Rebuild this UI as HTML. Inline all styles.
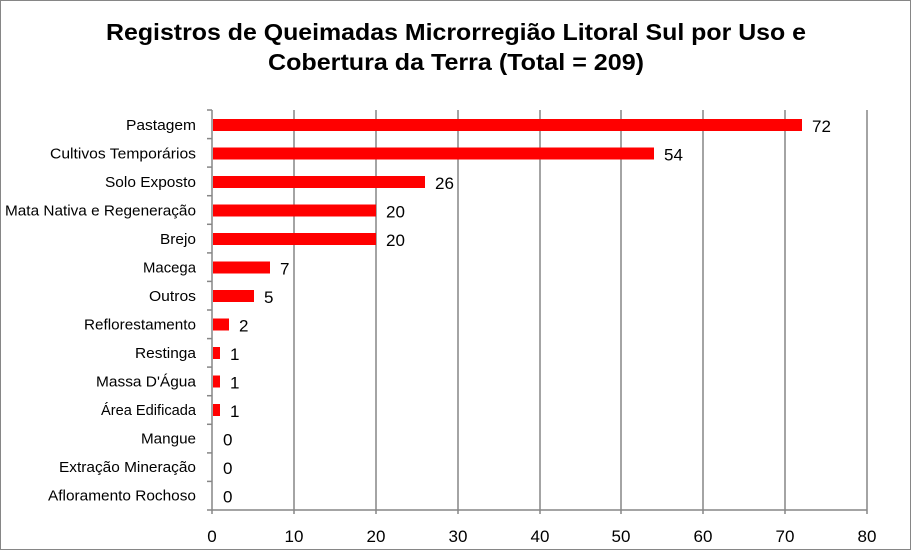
<!DOCTYPE html>
<html><head><meta charset="utf-8"><style>
body{margin:0;background:#fff}
svg{display:block}
text{font-family:"Liberation Sans",Arial,sans-serif}
</style></head><body>
<svg width="911" height="551" viewBox="0 0 911 551" xmlns="http://www.w3.org/2000/svg">
<rect x="0.5" y="0.5" width="910" height="549" fill="#fff" stroke="#868686"/>
<text x="106" y="40" font-size="23" font-weight="bold" textLength="700" lengthAdjust="spacingAndGlyphs">Registros de Queimadas Microrregião Litoral Sul por Uso e</text>
<text x="268" y="70" font-size="23" font-weight="bold" textLength="376" lengthAdjust="spacingAndGlyphs">Cobertura da Terra (Total = 209)</text>
<g stroke="#868686" stroke-width="1.5">
<line x1="294" y1="110" x2="294" y2="510"/><line x1="376" y1="110" x2="376" y2="510"/>
<line x1="458" y1="110" x2="458" y2="510"/><line x1="540" y1="110" x2="540" y2="510"/>
<line x1="621" y1="110" x2="621" y2="510"/><line x1="703" y1="110" x2="703" y2="510"/>
<line x1="785" y1="110" x2="785" y2="510"/><line x1="867" y1="110" x2="867" y2="510"/>
<line x1="212" y1="110" x2="212" y2="514"/><line x1="207" y1="510" x2="867" y2="510"/>
<line x1="207" y1="110" x2="212" y2="110"/><line x1="207" y1="138.6" x2="212" y2="138.6"/><line x1="207" y1="167.1" x2="212" y2="167.1"/><line x1="207" y1="195.7" x2="212" y2="195.7"/><line x1="207" y1="224.3" x2="212" y2="224.3"/><line x1="207" y1="252.9" x2="212" y2="252.9"/><line x1="207" y1="281.4" x2="212" y2="281.4"/><line x1="207" y1="310" x2="212" y2="310"/><line x1="207" y1="338.6" x2="212" y2="338.6"/><line x1="207" y1="367.1" x2="212" y2="367.1"/><line x1="207" y1="395.7" x2="212" y2="395.7"/><line x1="207" y1="424.3" x2="212" y2="424.3"/><line x1="207" y1="452.9" x2="212" y2="452.9"/><line x1="207" y1="481.4" x2="212" y2="481.4"/>
<line x1="294" y1="510" x2="294" y2="514"/><line x1="376" y1="510" x2="376" y2="514"/><line x1="458" y1="510" x2="458" y2="514"/><line x1="540" y1="510" x2="540" y2="514"/><line x1="621" y1="510" x2="621" y2="514"/><line x1="703" y1="510" x2="703" y2="514"/><line x1="785" y1="510" x2="785" y2="514"/><line x1="867" y1="510" x2="867" y2="514"/>
</g>
<g fill="#ff0000">
<rect x="213" y="119" width="589" height="12"/>
<rect x="213" y="147.5" width="441" height="12"/>
<rect x="213" y="176" width="212" height="12"/>
<rect x="213" y="204.5" width="163" height="12"/>
<rect x="213" y="233" width="163" height="12"/>
<rect x="213" y="261.5" width="57" height="12"/>
<rect x="213" y="290" width="41" height="12"/>
<rect x="213" y="318.5" width="16" height="12"/>
<rect x="213" y="347" width="7" height="12"/>
<rect x="213" y="375.5" width="7" height="12"/>
<rect x="213" y="404" width="7" height="12"/>
</g>
<g font-size="17">
<text x="812" y="132">72</text><text x="664" y="160.5">54</text><text x="435" y="189">26</text><text x="386" y="217.5">20</text><text x="386" y="246">20</text><text x="280" y="274.5">7</text><text x="264" y="303">5</text><text x="239" y="331.5">2</text><text x="230" y="360">1</text><text x="230" y="388.5">1</text><text x="230" y="417">1</text><text x="223" y="445.5">0</text><text x="223" y="474">0</text><text x="223" y="502.5">0</text>
</g>
<g font-size="15" lengthAdjust="spacingAndGlyphs">
<text x="126" y="130" textLength="70" lengthAdjust="spacingAndGlyphs">Pastagem</text>
<text x="50" y="158.5" textLength="146" lengthAdjust="spacingAndGlyphs">Cultivos Temporários</text>
<text x="105" y="187" textLength="91" lengthAdjust="spacingAndGlyphs">Solo Exposto</text>
<text x="5" y="215.5" textLength="191" lengthAdjust="spacingAndGlyphs">Mata Nativa e Regeneração</text>
<text x="160" y="244" textLength="36" lengthAdjust="spacingAndGlyphs">Brejo</text>
<text x="143" y="272.5" textLength="53" lengthAdjust="spacingAndGlyphs">Macega</text>
<text x="149" y="301" textLength="47" lengthAdjust="spacingAndGlyphs">Outros</text>
<text x="84" y="329.5" textLength="112" lengthAdjust="spacingAndGlyphs">Reflorestamento</text>
<text x="135" y="358" textLength="61" lengthAdjust="spacingAndGlyphs">Restinga</text>
<text x="96" y="386.5" textLength="100" lengthAdjust="spacingAndGlyphs">Massa D'Água</text>
<text x="101" y="415" textLength="95" lengthAdjust="spacingAndGlyphs">Área Edificada</text>
<text x="141" y="443.5" textLength="55" lengthAdjust="spacingAndGlyphs">Mangue</text>
<text x="59" y="472" textLength="137" lengthAdjust="spacingAndGlyphs">Extração Mineração</text>
<text x="48" y="500.5" textLength="148" lengthAdjust="spacingAndGlyphs">Afloramento Rochoso</text>
</g>
<g font-size="17" text-anchor="middle">
<text x="212" y="542">0</text><text x="294" y="542">10</text><text x="376" y="542">20</text><text x="458" y="542">30</text><text x="540" y="542">40</text><text x="621" y="542">50</text><text x="703" y="542">60</text><text x="785" y="542">70</text><text x="867" y="542">80</text>
</g>
</svg>
</body></html>
